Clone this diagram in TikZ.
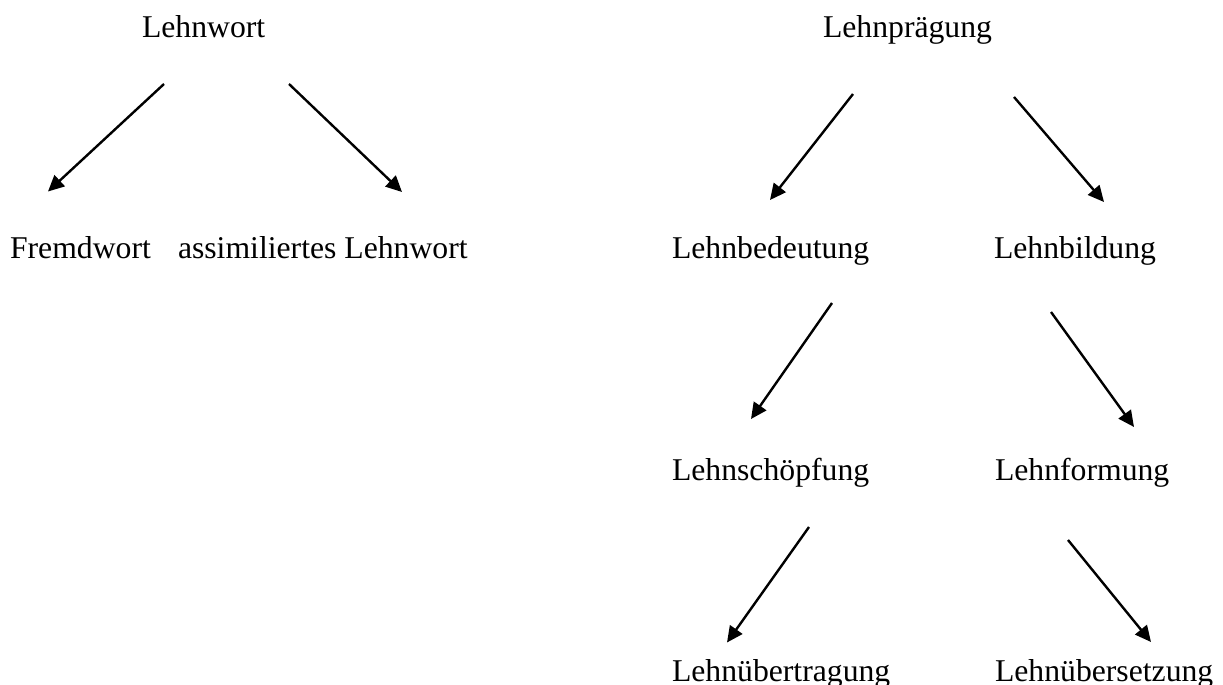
\documentclass[tikz,border=0pt]{standalone}
\usepackage{fontspec}
\setmainfont{Liberation Serif}
\usetikzlibrary{arrows.meta}
\tikzset{
  lbl/.style={anchor=base west, inner sep=0pt, outer sep=0pt, font=\fontsize{31.7pt}{38pt}\selectfont},
  arr/.style={line width=2.4pt, -{Triangle[length=16pt,width=15pt]}}
}
\begin{document}
\begin{tikzpicture}[x=1pt,y=-1pt]
\useasboundingbox[fill=white] (0,0) rectangle (1223,685);
% nodes
\node[lbl] (lw)  at (142,37.5) {Lehnwort};
\node[lbl] (fw)  at (10,258)   {Fremdwort};
\node[lbl] (alw) at (178,258)  {assimiliertes Lehnwort};
\node[lbl] (lp)  at (823,37.5) {Lehnprägung};
\node[lbl] (lbd) at (672,258)  {Lehnbedeutung};
\node[lbl] (lbi) at (994,258)  {Lehnbildung};
\node[lbl] (lsc) at (672,480)  {Lehnschöpfung};
\node[lbl] (lfo) at (995,480)  {Lehnformung};
\node[lbl] (lut) at (672,681)  {Lehnübertragung};
\node[lbl] (lus) at (995,681)  {Lehnübersetzung};
% arrow ends
\coordinate (lw-a) at (164,84);   \coordinate (fw-t)  at (48,191.5);
\coordinate (lw-b) at (289,84);   \coordinate (alw-t) at (402,192);
\coordinate (lp-a) at (853,94);   \coordinate (lbd-t) at (770,200);
\coordinate (lp-b) at (1014,97);  \coordinate (lbi-t) at (1104,202);
\coordinate (lbd-a) at (832,303); \coordinate (lsc-t) at (751,419);
\coordinate (lbi-a) at (1051,312);\coordinate (lfo-t) at (1134,427);
\coordinate (lsc-a) at (809,527); \coordinate (lut-t) at (727,642.5);
\coordinate (lfo-a) at (1068,540);\coordinate (lus-t) at (1151,642);
% arrows
\draw[arr] (lw-a) -- (fw-t);
\draw[arr] (lw-b) -- (alw-t);
\draw[arr] (lp-a) -- (lbd-t);
\draw[arr] (lp-b) -- (lbi-t);
\draw[arr] (lbd-a) -- (lsc-t);
\draw[arr] (lbi-a) -- (lfo-t);
\draw[arr] (lsc-a) -- (lut-t);
\draw[arr] (lfo-a) -- (lus-t);
\end{tikzpicture}
\end{document}
